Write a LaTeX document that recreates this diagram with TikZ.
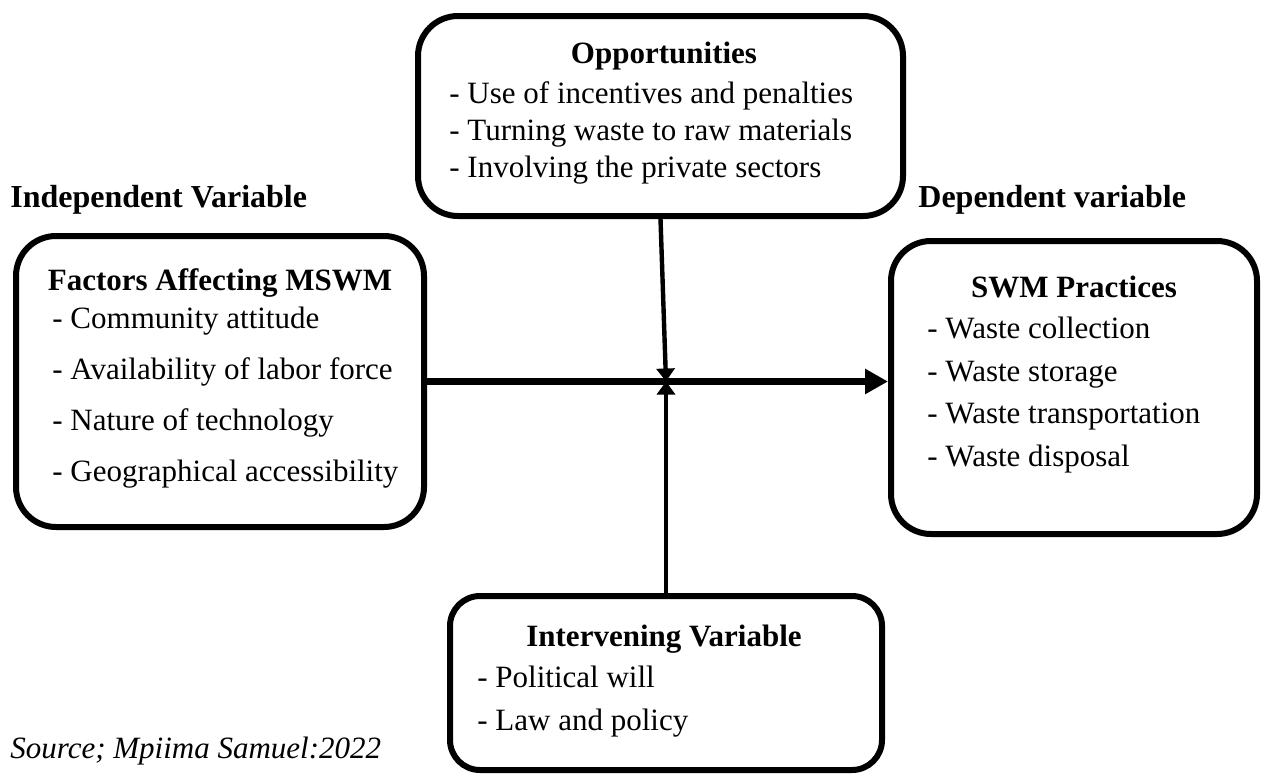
\documentclass[tikz,border=0pt]{standalone}
\usepackage{fontspec}
\setmainfont{Liberation Serif}
\usetikzlibrary{arrows.meta}
\begin{document}
\begin{tikzpicture}[x=0.5pt, y=-0.5pt, line join=round, line cap=round,
	font=\fontsize{15.5}{18.6}\selectfont,
	box/.style={draw, line width=3pt, rounded corners=20pt, inner sep=0pt},
	head/.style={anchor=base, inner sep=0pt, font=\fontsize{15.5}{18.6}\selectfont\bfseries},
	item/.style={anchor=base west, inner sep=0pt},
	link/.style={line width=2.2pt, -{Triangle[length=6.5pt, width=9pt]}}]
				\useasboundingbox (0, 0) rectangle (1262, 776);
				\node[box, minimum width=242.5pt, minimum height=100pt] (opp) at (660.5, 116) {};
				\node[box, minimum width=204pt, minimum height=145.5pt] (fac) at (220, 381.5) {};
				\node[box, minimum width=183pt, minimum height=146.5pt] (swm) at (1074, 387.5) {};
				\node[box, minimum width=216pt, minimum height=87pt, rounded corners=15pt] (inter) at (666, 683) {};
				\node[head] (oppT) at (664, 63) {Opportunities};
				\foreach \t [count=\i] in {Use of incentives and penalties, Turning waste to raw materials, Involving the private sectors}
					\node[item] (opp\i) at (449, {66+37*\i}) {- \t};
				\node[head, anchor=base west, font=\fontsize{16}{19}\selectfont\bfseries] (indep) at (10, 207) {Independent Variable};
				\node[head, anchor=base west, font=\fontsize{16}{19}\selectfont\bfseries] (dep) at (918, 207) {Dependent variable};
				\node[head] (facT) at (220, 290) {Factors Affecting MSWM};
				\foreach \t [count=\i] in {Community attitude, Availability of labor force, Nature of technology, Geographical accessibility}
					\node[item] (fac\i) at (52, {277+51*\i}) {- \t};
				\node[head] (swmT) at (1074, 297) {SWM Practices};
				\foreach \t [count=\i] in {Waste collection, Waste storage, Waste transportation, Waste disposal}
					\node[item] (swm\i) at (927, {296+42.5*\i}) {- \t};
				\node[head] (interT) at (664, 646) {Intervening Variable};
				\foreach \t [count=\i] in {Political will, Law and policy}
					\node[item] (inter\i) at (477, {644+43*\i}) {- \t};
				\node[item, font=\fontsize{15.5}{18.6}\selectfont\itshape] (src) at (10, 758) {Source; Mpiima Samuel:2022};
				\coordinate (mid) at (666, 381.5);
				\draw[line width=3.5pt, -{Triangle[length=11.5pt, width=12pt]}] (fac.east) -- (fac.east -| swm.west);
				\draw[link] (opp.south) -- (mid);
				\draw[link] (inter.north) -- (mid);
			\end{tikzpicture}
\end{document}
